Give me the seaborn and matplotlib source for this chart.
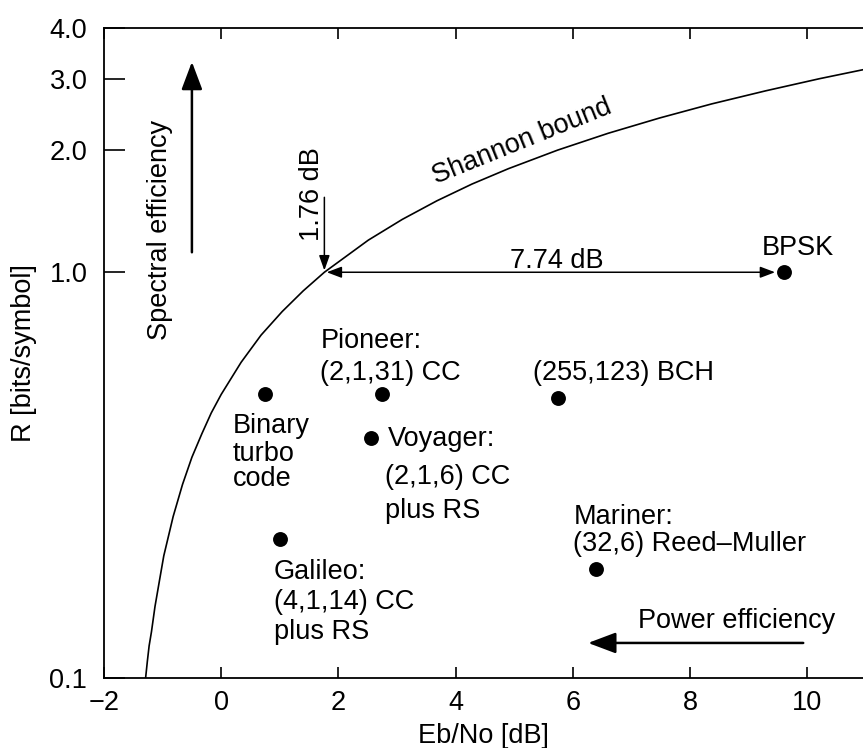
import numpy as np
import pandas as pd
import matplotlib
matplotlib.use("Agg")
import matplotlib.pyplot as plt
from matplotlib.ticker import NullLocator, FixedLocator, FixedFormatter
import seaborn as sns

# ---- data ----
shannon_rate = [0.10, 0.11, 0.12, 0.13, 0.15, 0.175, 0.20, 0.25, 0.30, 0.35, 0.40, 0.45,
                0.50, 0.60, 0.70, 0.80, 0.90, 1.00, 1.20, 1.35, 1.50, 1.65, 1.80, 2.00,
                2.20, 2.40, 2.60, 2.80, 3.00, 3.20]
shannon_ebno = [-1.29, -1.26, -1.23, -1.19, -1.13, -1.05, -0.98, -0.82, -0.66, -0.50, -0.33, -0.17,
                0.00, 0.34, 0.68, 1.04, 1.40, 1.76, 2.51, 3.09, 3.68, 4.28, 4.90, 5.74,
                6.60, 7.48, 8.37, 9.29, 10.21, 11.15]

code_names = ["BPSK", "Pioneer", "BCH", "Turbo", "Voyager", "Galileo", "Mariner"]
code_ebno = [9.6, 2.75, 5.75, 0.75, 2.55, 1.0, 6.4]
code_rate = [1.0, 0.5, 0.49, 0.5, 0.39, 0.22, 0.186]

x_ticks = [-2, 0, 2, 4, 6, 8, 10]
x_ticklabels = ["\u22122", "0", "2", "4", "6", "8", "10"]
y_ticks = [0.1, 1.0, 2.0, 3.0, 4.0]
y_ticklabels = ["0.1", "1.0", "2.0", "3.0", "4.0"]

shannon_df = pd.DataFrame({"ebno": shannon_ebno, "rate": shannon_rate})
codes_df = pd.DataFrame({"name": code_names, "ebno": code_ebno, "rate": code_rate})

# ---- style ----
sns.set_theme(style="white")
plt.rcParams["font.family"] = ["Liberation Sans", "DejaVu Sans"]
FS = 19.5

fig = plt.figure(figsize=(8.63, 7.48), dpi=100)
ax = fig.add_axes([0.1205, 0.0936, 0.8795, 0.869])

sns.lineplot(data=shannon_df, x="ebno", y="rate", sort=False, estimator=None,
             color="black", linewidth=1.2, ax=ax)
sns.scatterplot(data=codes_df, x="ebno", y="rate", color="black", s=115,
                edgecolor="black", linewidth=0, ax=ax, zorder=5)

ax.set_yscale("log")
ax.set_xlim(-2, 10.95)
ax.set_ylim(0.1, 4.0)

ax.xaxis.set_major_locator(FixedLocator(x_ticks))
ax.xaxis.set_major_formatter(FixedFormatter(x_ticklabels))
ax.yaxis.set_major_locator(FixedLocator(y_ticks))
ax.yaxis.set_major_formatter(FixedFormatter(y_ticklabels))
ax.yaxis.set_minor_locator(NullLocator())
ax.xaxis.set_minor_locator(NullLocator())

for s in ["left", "bottom", "top"]:
    ax.spines[s].set_visible(True)
    ax.spines[s].set_color("black")
    ax.spines[s].set_linewidth(1.3)
ax.spines["right"].set_visible(False)

ax.tick_params(axis="x", which="major", direction="in", top=True, bottom=True,
               length=8, width=1.2, pad=9, labelsize=FS, colors="black")
ax.tick_params(axis="y", which="major", direction="in", left=True, right=False,
               length=15, width=1.2, pad=12, labelsize=FS, colors="black")

ax.set_xlabel("Eb/No [dB]", fontsize=FS, labelpad=5, color="black")
ax.set_ylabel("R [bits/symbol]", fontsize=FS, labelpad=9, color="black")

def txt(x, y, s, ha="left", rot=0):
    ax.text(x, y, s, fontsize=FS, ha=ha, va="center_baseline", rotation=rot,
            rotation_mode="anchor", color="black")

# code labels
txt(0.20, 0.424, "Binary")
txt(0.20, 0.363, "turbo")
txt(0.20, 0.315, "code")
txt(1.69, 0.687, "Pioneer:")
txt(1.69, 0.573, "(2,1,31) CC")
txt(5.32, 0.573, "(255,123) BCH")
txt(2.85, 0.394, "Voyager:")
txt(2.80, 0.319, "(2,1,6) CC")
txt(2.80, 0.263, "plus RS")
txt(0.90, 0.186, "Galileo:")
txt(0.90, 0.157, "(4,1,14) CC")
txt(0.90, 0.132, "plus RS")
txt(6.02, 0.254, "Mariner:")
txt(6.00, 0.218, "(32,6) Reed\u2013Muller")
txt(9.84, 1.166, "BPSK", ha="center")
txt(5.73, 1.083, "7.74 dB", ha="center")
txt(7.11, 0.1406, "Power efficiency")

ax.text(1.55, 1.558, "1.76 dB", fontsize=FS, ha="center", va="center",
        rotation=90, color="black")
ax.text(-1.04, 1.27, "Spectral efficiency", fontsize=FS, ha="center", va="center",
        rotation=90, color="black")
ax.text(5.13, 2.094, "Shannon bound", fontsize=FS, ha="center", va="center",
        rotation=22, rotation_mode="anchor", color="black")

# arrows
def arrow(start, tip, style, lw):
    ax.annotate("", xy=tip, xytext=start,
                arrowprops=dict(arrowstyle=style, color="black", lw=lw,
                                shrinkA=0, shrinkB=0, mutation_scale=20))

arrow((-0.50, 1.12), (-0.50, 3.30), "-|>,head_length=0.85,head_width=0.32", 1.8)
arrow((1.76, 1.53), (1.76, 1.01), "-|>,head_length=0.45,head_width=0.16", 1.1)
arrow((1.80, 1.0), (9.45, 1.0), "<|-|>,head_length=0.45,head_width=0.17", 1.1)
arrow((9.93, 0.122), (6.26, 0.122), "-|>,head_length=0.85,head_width=0.32", 1.8)

fig.savefig("out.png", dpi=100)
